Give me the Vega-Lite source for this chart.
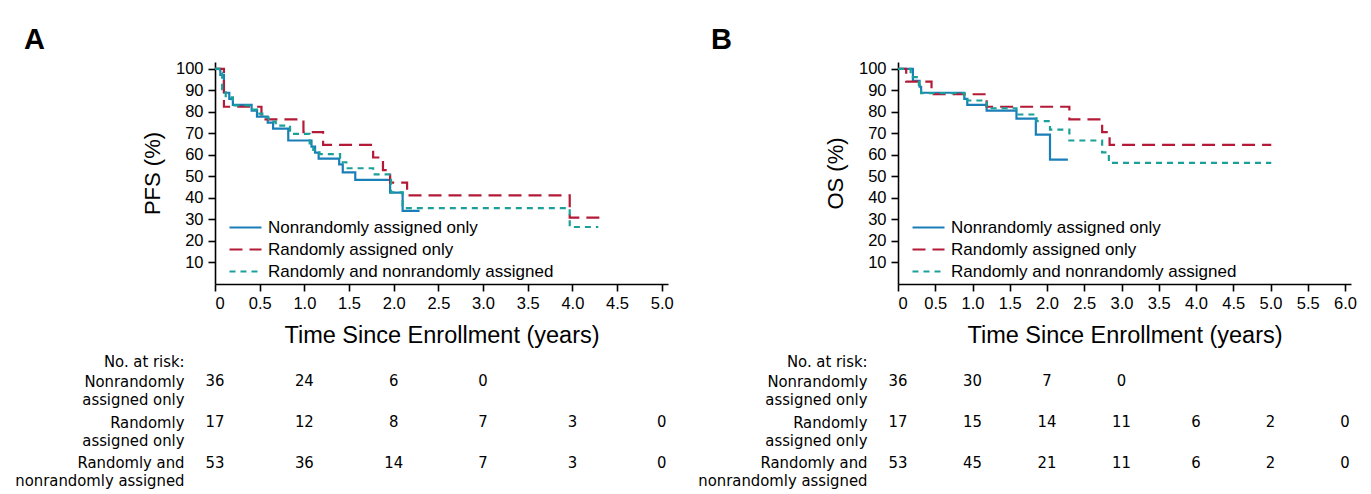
{
  "$schema": "https://vega.github.io/schema/vega-lite/v6.json",
  "padding": {"left": 14, "top": 25, "right": 0, "bottom": 0},
  "background": "white",
  "datasets": {
    "km": [
      {"p":"A","g":"N","t":0,"s":100},{"p":"A","g":"N","t":0.06,"s":97.2},{"p":"A","g":"N","t":0.1,"s":88.9},{"p":"A","g":"N","t":0.16,"s":86.1},{"p":"A","g":"N","t":0.2,"s":83.3},{"p":"A","g":"N","t":0.41,"s":80.6},{"p":"A","g":"N","t":0.47,"s":77.8},{"p":"A","g":"N","t":0.59,"s":75},{"p":"A","g":"N","t":0.65,"s":72.2},{"p":"A","g":"N","t":0.82,"s":66.7},{"p":"A","g":"N","t":1.08,"s":63.9},{"p":"A","g":"N","t":1.12,"s":61.1},{"p":"A","g":"N","t":1.16,"s":58.3},{"p":"A","g":"N","t":1.39,"s":55.6},{"p":"A","g":"N","t":1.43,"s":51.9},{"p":"A","g":"N","t":1.57,"s":48.4},{"p":"A","g":"N","t":1.96,"s":42.5},{"p":"A","g":"N","t":2.1,"s":34},{"p":"A","g":"N","t":2.29,"s":34},
      {"p":"A","g":"R","t":0,"s":100},{"p":"A","g":"R","t":0.1,"s":82.4},{"p":"A","g":"R","t":0.52,"s":76.5},{"p":"A","g":"R","t":0.99,"s":70.6},{"p":"A","g":"R","t":1.21,"s":64.7},{"p":"A","g":"R","t":1.77,"s":58.8},{"p":"A","g":"R","t":1.88,"s":52.9},{"p":"A","g":"R","t":1.96,"s":47.1},{"p":"A","g":"R","t":2.15,"s":41.2},{"p":"A","g":"R","t":3.97,"s":30.9},{"p":"A","g":"R","t":4.34,"s":30.9},
      {"p":"A","g":"B","t":0,"s":100},{"p":"A","g":"B","t":0.05,"s":98.1},{"p":"A","g":"B","t":0.08,"s":90.6},{"p":"A","g":"B","t":0.12,"s":86.8},{"p":"A","g":"B","t":0.2,"s":83},{"p":"A","g":"B","t":0.4,"s":81.1},{"p":"A","g":"B","t":0.47,"s":79.2},{"p":"A","g":"B","t":0.53,"s":77.4},{"p":"A","g":"B","t":0.6,"s":75.5},{"p":"A","g":"B","t":0.68,"s":73.6},{"p":"A","g":"B","t":0.84,"s":69.8},{"p":"A","g":"B","t":1.06,"s":65.4},{"p":"A","g":"B","t":1.1,"s":62.3},{"p":"A","g":"B","t":1.17,"s":60.4},{"p":"A","g":"B","t":1.4,"s":56.6},{"p":"A","g":"B","t":1.47,"s":53.8},{"p":"A","g":"B","t":1.77,"s":51},{"p":"A","g":"B","t":1.97,"s":42.6},{"p":"A","g":"B","t":2.1,"s":35.3},{"p":"A","g":"B","t":3.97,"s":26.5},{"p":"A","g":"B","t":4.29,"s":26.5},
      {"p":"B","g":"N","t":0,"s":100},{"p":"B","g":"N","t":0.2,"s":94.4},{"p":"B","g":"N","t":0.29,"s":91.7},{"p":"B","g":"N","t":0.31,"s":88.9},{"p":"B","g":"N","t":0.89,"s":86.1},{"p":"B","g":"N","t":0.93,"s":83.3},{"p":"B","g":"N","t":1.19,"s":80.6},{"p":"B","g":"N","t":1.59,"s":76.9},{"p":"B","g":"N","t":1.85,"s":69.4},{"p":"B","g":"N","t":2.04,"s":57.8},{"p":"B","g":"N","t":2.28,"s":57.8},
      {"p":"B","g":"R","t":0,"s":100},{"p":"B","g":"R","t":0.11,"s":94.1},{"p":"B","g":"R","t":0.45,"s":88.2},{"p":"B","g":"R","t":1.19,"s":82.4},{"p":"B","g":"R","t":2.3,"s":76.5},{"p":"B","g":"R","t":2.74,"s":70.6},{"p":"B","g":"R","t":2.84,"s":64.7},{"p":"B","g":"R","t":5.01,"s":64.7},
      {"p":"B","g":"B","t":0,"s":100},{"p":"B","g":"B","t":0.17,"s":96.2},{"p":"B","g":"B","t":0.28,"s":92.5},{"p":"B","g":"B","t":0.31,"s":88.7},{"p":"B","g":"B","t":0.89,"s":86.8},{"p":"B","g":"B","t":0.93,"s":85.3},{"p":"B","g":"B","t":1.19,"s":81.7},{"p":"B","g":"B","t":1.59,"s":78.8},{"p":"B","g":"B","t":1.86,"s":75.7},{"p":"B","g":"B","t":2.04,"s":71.8},{"p":"B","g":"B","t":2.3,"s":66.7},{"p":"B","g":"B","t":2.74,"s":61.2},{"p":"B","g":"B","t":2.83,"s":56.3},{"p":"B","g":"B","t":5.01,"s":56.3}
    ],
    "risk": [
      {"p":"A","g":"N","t":0,"n":36},{"p":"A","g":"N","t":1,"n":24},{"p":"A","g":"N","t":2,"n":6},{"p":"A","g":"N","t":3,"n":0},
      {"p":"A","g":"R","t":0,"n":17},{"p":"A","g":"R","t":1,"n":12},{"p":"A","g":"R","t":2,"n":8},{"p":"A","g":"R","t":3,"n":7},{"p":"A","g":"R","t":4,"n":3},{"p":"A","g":"R","t":5,"n":0},
      {"p":"A","g":"B","t":0,"n":53},{"p":"A","g":"B","t":1,"n":36},{"p":"A","g":"B","t":2,"n":14},{"p":"A","g":"B","t":3,"n":7},{"p":"A","g":"B","t":4,"n":3},{"p":"A","g":"B","t":5,"n":0},
      {"p":"B","g":"N","t":0,"n":36},{"p":"B","g":"N","t":1,"n":30},{"p":"B","g":"N","t":2,"n":7},{"p":"B","g":"N","t":3,"n":0},
      {"p":"B","g":"R","t":0,"n":17},{"p":"B","g":"R","t":1,"n":15},{"p":"B","g":"R","t":2,"n":14},{"p":"B","g":"R","t":3,"n":11},{"p":"B","g":"R","t":4,"n":6},{"p":"B","g":"R","t":5,"n":2},{"p":"B","g":"R","t":6,"n":0},
      {"p":"B","g":"B","t":0,"n":53},{"p":"B","g":"B","t":1,"n":45},{"p":"B","g":"B","t":2,"n":21},{"p":"B","g":"B","t":3,"n":11},{"p":"B","g":"B","t":4,"n":6},{"p":"B","g":"B","t":5,"n":2},{"p":"B","g":"B","t":6,"n":0}
    ]
  },
  "columns": 2,
  "bounds": "flush",
  "align": "each",
  "spacing": {"row": 77, "column": 230},
  "resolve": {
    "scale": {"x": "independent", "y": "independent", "color": "independent", "strokeDash": "independent"},
    "axis": {"x": "independent", "y": "independent"},
    "legend": {"color": "independent", "strokeDash": "independent"}
  },
  "concat": [
    {
      "data": {"name": "km"},
      "transform": [{"filter": "datum.p == 'A'"}],
      "width": 453, "height": 222,
      "title": {"text": "A", "frame": "group", "dx": -191, "offset": -17, "baseline": "alphabetic"},
      "mark": {"type": "line", "interpolate": "step-after", "strokeWidth": 2.2},
      "encoding": {
        "x": {"field": "t", "type": "quantitative", "scale": {"domain": [0, 5.07], "nice": false, "zero": false},
              "axis": {"values": [0,0.5,1,1.5,2,2.5,3,3.5,4,4.5,5], "labelExpr": "datum.value == 0 ? '0' : format(datum.value, '.1f')", "title": "Time Since Enrollment (years)"}},
        "y": {"field": "s", "type": "quantitative", "scale": {"domain": [0, 103.2], "nice": false},
              "axis": {"values": [10,20,30,40,50,60,70,80,90,100], "title": "PFS (%)"}},
        "color": {"field": "g", "type": "nominal", "scale": {"domain": ["N","R","B"], "range": ["#1a7fb8","#b41a37","#1aa098"]},
                  "legend": {"orient": "none", "legendX": 19, "legendY": 154, "title": null, "symbolType": "M-1.6,0H1.6", "symbolSize": 400, "symbolStrokeWidth": 2.2, "labelFontSize": 17, "labelOffset": 11, "labelLimit": 500, "rowPadding": 2, "labelExpr": "datum.label == 'N' ? 'Nonrandomly assigned only' : datum.label == 'R' ? 'Randomly assigned only' : 'Randomly and nonrandomly assigned'"}},
        "strokeDash": {"field": "g", "type": "nominal", "scale": {"domain": ["N","R","B"], "range": [[1,0],[13,7],[6,5]]},
                  "legend": {"orient": "none", "legendX": 19, "legendY": 154, "title": null, "symbolType": "M-1.6,0H1.6", "symbolSize": 400, "symbolStrokeWidth": 2.2, "labelFontSize": 17, "labelOffset": 11, "labelLimit": 500, "rowPadding": 2, "labelExpr": "datum.label == 'N' ? 'Nonrandomly assigned only' : datum.label == 'R' ? 'Randomly assigned only' : 'Randomly and nonrandomly assigned'"}}
      }
    },
    {
      "data": {"name": "km"},
      "transform": [{"filter": "datum.p == 'B'"}],
      "width": 453, "height": 222,
      "title": {"text": "B", "frame": "group", "dx": -187, "offset": -17, "baseline": "alphabetic"},
      "mark": {"type": "line", "interpolate": "step-after", "strokeWidth": 2.2},
      "encoding": {
        "x": {"field": "t", "type": "quantitative", "scale": {"domain": [0, 6.08], "nice": false, "zero": false},
              "axis": {"values": [0,0.5,1,1.5,2,2.5,3,3.5,4,4.5,5,5.5,6], "labelExpr": "datum.value == 0 ? '0' : format(datum.value, '.1f')", "title": "Time Since Enrollment (years)"}},
        "y": {"field": "s", "type": "quantitative", "scale": {"domain": [0, 103.2], "nice": false},
              "axis": {"values": [10,20,30,40,50,60,70,80,90,100], "title": "OS (%)"}},
        "color": {"field": "g", "type": "nominal", "scale": {"domain": ["N","R","B"], "range": ["#1a7fb8","#b41a37","#1aa098"]},
                  "legend": {"orient": "none", "legendX": 19, "legendY": 154, "title": null, "symbolType": "M-1.6,0H1.6", "symbolSize": 400, "symbolStrokeWidth": 2.2, "labelFontSize": 17, "labelOffset": 11, "labelLimit": 500, "rowPadding": 2, "labelExpr": "datum.label == 'N' ? 'Nonrandomly assigned only' : datum.label == 'R' ? 'Randomly assigned only' : 'Randomly and nonrandomly assigned'"}},
        "strokeDash": {"field": "g", "type": "nominal", "scale": {"domain": ["N","R","B"], "range": [[1,0],[13,7],[6,5]]},
                  "legend": {"orient": "none", "legendX": 19, "legendY": 154, "title": null, "symbolType": "M-1.6,0H1.6", "symbolSize": 400, "symbolStrokeWidth": 2.2, "labelFontSize": 17, "labelOffset": 11, "labelLimit": 500, "rowPadding": 2, "labelExpr": "datum.label == 'N' ? 'Nonrandomly assigned only' : datum.label == 'R' ? 'Randomly assigned only' : 'Randomly and nonrandomly assigned'"}}
      }
    },
    {
      "data": {"name": "risk"},
      "transform": [{"filter": "datum.p == 'A'"}],
      "width": 453, "height": 122,
      "mark": {"type": "text", "fontSize": 16.5, "font": "Liberation Sans Narrow, DejaVu Sans Condensed, sans-serif", "baseline": "middle", "align": "center", "color": "black"},
      "encoding": {
        "x": {"field": "t", "type": "quantitative", "scale": {"domain": [0, 5.07], "nice": false, "zero": false}, "axis": null},
        "y": {"field": "g", "type": "nominal", "scale": {"domain": ["N","R","B"]},
              "axis": {"title": "No. at risk:", "titleAngle": 0, "titleAlign": "right", "titleBaseline": "middle", "titleX": -31, "titleY": 0, "titleFont": "Liberation Sans Narrow, DejaVu Sans Condensed, sans-serif", "titleFontSize": 16.5, "titleFontWeight": "normal",
                       "domain": false, "ticks": false, "tickSize": 0, "labelPadding": 31, "labelFont": "Liberation Sans Narrow, DejaVu Sans Condensed, sans-serif", "labelFontSize": 16.5, "labelLineHeight": 18, "labelBaseline": "middle", "labelAlign": "right", "labelLimit": 400,
                       "labelExpr": "datum.value == 'N' ? ['Nonrandomly', 'assigned only'] : datum.value == 'R' ? ['Randomly', 'assigned only'] : ['Randomly and', 'nonrandomly assigned']"}},
        "text": {"field": "n", "type": "quantitative"}
      }
    },
    {
      "data": {"name": "risk"},
      "transform": [{"filter": "datum.p == 'B'"}],
      "width": 453, "height": 122,
      "mark": {"type": "text", "fontSize": 16.5, "font": "Liberation Sans Narrow, DejaVu Sans Condensed, sans-serif", "baseline": "middle", "align": "center", "color": "black"},
      "encoding": {
        "x": {"field": "t", "type": "quantitative", "scale": {"domain": [0, 6.08], "nice": false, "zero": false}, "axis": null},
        "y": {"field": "g", "type": "nominal", "scale": {"domain": ["N","R","B"]},
              "axis": {"title": "No. at risk:", "titleAngle": 0, "titleAlign": "right", "titleBaseline": "middle", "titleX": -31, "titleY": 0, "titleFont": "Liberation Sans Narrow, DejaVu Sans Condensed, sans-serif", "titleFontSize": 16.5, "titleFontWeight": "normal",
                       "domain": false, "ticks": false, "tickSize": 0, "labelPadding": 31, "labelFont": "Liberation Sans Narrow, DejaVu Sans Condensed, sans-serif", "labelFontSize": 16.5, "labelLineHeight": 18, "labelBaseline": "middle", "labelAlign": "right", "labelLimit": 400,
                       "labelExpr": "datum.value == 'N' ? ['Nonrandomly', 'assigned only'] : datum.value == 'R' ? ['Randomly', 'assigned only'] : ['Randomly and', 'nonrandomly assigned']"}},
        "text": {"field": "n", "type": "quantitative"}
      }
    }
  ],
  "config": {
    "font": "Liberation Sans",
    "view": {"stroke": null},
    "axis": {"grid": false, "domainColor": "black", "domainWidth": 1.6, "tickColor": "black", "tickWidth": 1.6, "tickSize": 7,
             "labelColor": "black", "labelFontSize": 16.5, "labelFont": "Liberation Sans", "labelPadding": 5,
             "titleColor": "black", "titleFontSize": 22, "titleFontWeight": "normal", "titleFont": "Liberation Sans", "titlePadding": 11},
    "axisX": {"labelPadding": 4, "titlePadding": 12, "titleFontSize": 23.5},
    "legend": {"labelColor": "black", "labelFont": "Liberation Sans", "padding": 0},
    "title": {"fontSize": 29, "fontWeight": "bold", "color": "black", "anchor": "start", "font": "Liberation Sans"}
  }
}
